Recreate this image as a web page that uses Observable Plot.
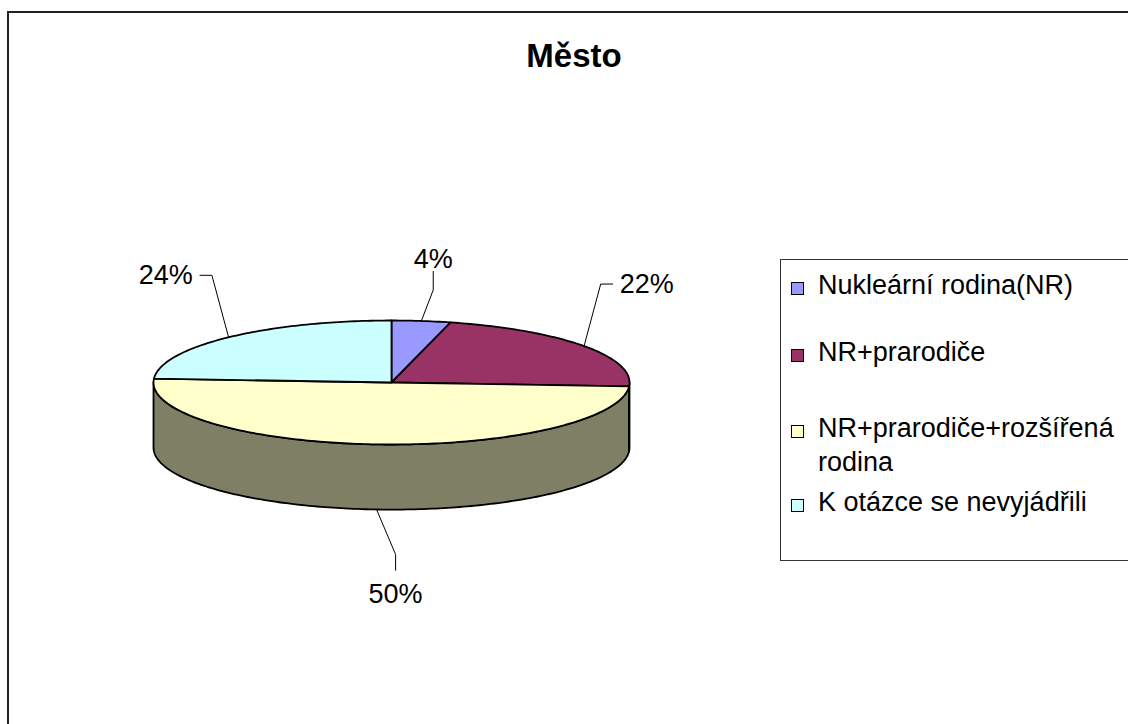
<!DOCTYPE html>
<html>
<head>
<meta charset="utf-8">
<script src="https://cdn.jsdelivr.net/npm/d3@7"></script>
<script src="https://cdn.jsdelivr.net/npm/@observablehq/plot@0.6"></script>
<style>
html, body { margin: 0; padding: 0; background: #fff; overflow: hidden; }
#wrap { position: relative; width: 1128px; height: 724px; overflow: hidden; font-family: "Liberation Sans", Arial, sans-serif; color: #000; }
#frame { position: absolute; left: 7px; top: 11px; width: 1200px; height: 800px; border-left: 2px solid #222; border-top: 2px solid #222; }
#chart { position: absolute; left: 0; top: 0; }
#title { position: absolute; left: 474px; top: 39px; width: 200px; text-align: center; font-weight: bold; font-size: 33px; line-height: 33px; }
#legend { position: absolute; left: 780px; top: 259px; width: 420px; height: 300px; border: 1px solid #333; background: #fff; }
.sw { position: absolute; width: 11px; height: 11px; border: 1px solid #000; }
.lt { position: absolute; font-size: 27px; line-height: 33.4px; width: 308px; white-space: normal; }
</style>
</head>
<body>
<div id="wrap">
  <div id="frame"></div>
  <div id="chart"></div>
  <div id="title">Město</div>
  <div id="legend"></div>
</div>
<script>
// ---- data ----
const categories = ["Nukleární rodina(NR)", "NR+prarodiče", "NR+prarodiče+rozšířená rodina", "K otázce se nevyjádřili"];
const values = [4, 22, 50, 24];
const valueLabels = ["4%", "22%", "50%", "24%"];

// ---- style / layout ----
const colors = ["#9999FF", "#993366", "#FFFFCC", "#CCFFFF"];
const depth = 1.05;            // pie thickness in units of the vertical radius
const legendBaselines = [295, 361.7, 438.3, 511.7];

// ---- geometry derived from data ----
const total = d3.sum(values);
let cum = 0;
const slices = categories.map((c, i) => {
  const a0 = cum / total * 2 * Math.PI;
  cum += values[i];
  const a1 = cum / total * 2 * Math.PI;
  return {category: c, a0, a1, label: valueLabels[i]};
});

function arc(a0, a1) {
  const n = Math.max(2, Math.ceil((a1 - a0) / (Math.PI / 180)));
  return d3.range(n + 1).map(k => a0 + (a1 - a0) * k / n);
}

const topPts = [];
for (const s of slices) {
  topPts.push({category: s.category, u: 0, v: 0});
  for (const a of arc(s.a0, s.a1)) topPts.push({category: s.category, u: Math.sin(a), v: Math.cos(a)});
  topPts.push({category: s.category, u: 0, v: 0});
}

const sidePts = [];
for (const s of slices) {
  const lo = Math.max(s.a0, Math.PI / 2), hi = Math.min(s.a1, 3 * Math.PI / 2);
  if (hi <= lo) continue;
  const as = arc(lo, hi);
  const pts = [];
  for (const a of as) pts.push({category: s.category, u: Math.sin(a), v: Math.cos(a)});
  for (const a of as.slice().reverse()) pts.push({category: s.category, u: Math.sin(a), v: Math.cos(a) - depth});
  pts.push(pts[0]);
  sidePts.push(...pts);
}

const labelData = [];
const leaderPts = [];
for (const s of slices) {
  const m = (s.a0 + s.a1) / 2;
  const sn = Math.sin(m), cs = Math.cos(m);
  const P = {u: sn, v: cs >= 0 ? cs : cs - depth};
  let L, anchor, e1, e2;
  if (Math.abs(sn) > 0.5) {
    const dir = Math.sign(sn);
    L = {u: P.u + dir * 0.15, v: P.v + (cs >= 0 ? 1 : -1) * 1.0};
    anchor = dir > 0 ? "start" : "end";
    e1 = {u: L.u - dir * 0.08, v: L.v};
    e2 = {u: L.u - dir * 0.03, v: L.v};
  } else if (cs >= 0) {
    L = {u: P.u + 0.05, v: P.v + 1.0};
    anchor = "middle";
    e1 = {u: L.u, v: L.v - 0.5};
    e2 = {u: L.u, v: L.v - 0.2};
  } else {
    L = {u: P.u + 0.08, v: P.v - 1.37};
    anchor = "middle";
    e1 = {u: L.u, v: L.v + 0.645};
    e2 = {u: L.u, v: L.v + 0.39};
  }
  labelData.push({category: s.category, label: s.label, u: L.u, v: L.v, anchor});
  leaderPts.push({category: s.category, ...P}, {category: s.category, ...e1}, {category: s.category, ...e2});
}

const chart = Plot.plot({
  width: 1128,
  height: 724,
  margin: 0,
  style: {background: "transparent", overflow: "visible"},
  x: {domain: [-1, 1], range: [153, 629], axis: null},
  y: {domain: [-1, 1], range: [444, 320], axis: null},
  color: {domain: categories, range: colors},
  marks: [
    Plot.line(sidePts, {x: "u", y: "v", z: "category", fill: "category", stroke: "none"}),
    Plot.line(sidePts, {x: "u", y: "v", z: "category", fill: "black", fillOpacity: 0.5, stroke: "black", strokeWidth: 1.8, strokeLinejoin: "round"}),
    Plot.line(topPts, {x: "u", y: "v", z: "category", fill: "category", stroke: "black", strokeWidth: 1.8, strokeLinejoin: "round"}),
    Plot.line(leaderPts, {x: "u", y: "v", z: "category", stroke: "black", strokeWidth: 1}),
    ...["start", "middle", "end"].map(a =>
      Plot.text(labelData.filter(d => d.anchor === a), {
        x: "u", y: "v", text: "label", textAnchor: a, lineAnchor: "middle",
        fontSize: 27, fontFamily: "Liberation Sans, Arial, sans-serif", fill: "black"
      }))
  ]
});
document.getElementById("chart").appendChild(chart);

// legend
const legend = document.getElementById("legend");
categories.forEach((c, i) => {
  const b = legendBaselines[i];
  const sw = document.createElement("div");
  sw.className = "sw";
  sw.style.background = colors[i];
  sw.style.left = (791 - 781) + "px";
  sw.style.top = (b - 13 - 260) + "px";
  legend.appendChild(sw);
  const t = document.createElement("div");
  t.className = "lt";
  t.textContent = c;
  t.style.left = (818 - 781) + "px";
  t.style.top = (b - 26.0 - 260) + "px";
  legend.appendChild(t);
});
</script>
</body>
</html>
